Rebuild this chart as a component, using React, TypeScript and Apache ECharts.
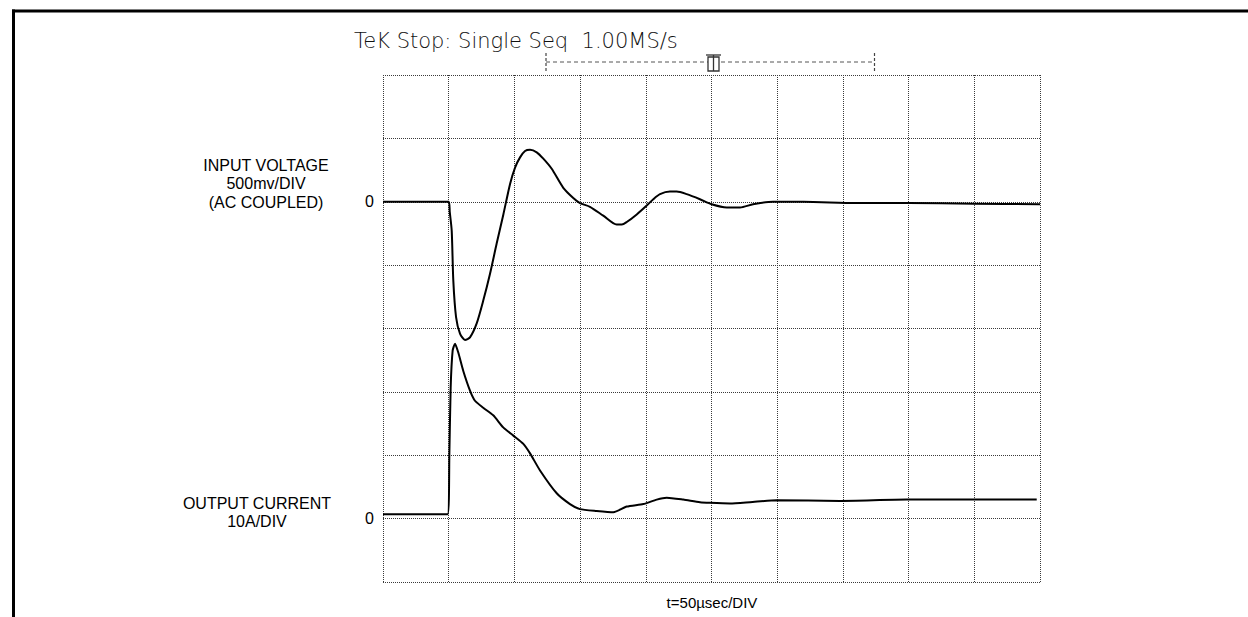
import React, { useEffect, useRef } from "react";
import * as echarts from "echarts";

// Time base: 50 µs per division, 10 divisions
const timeTicksUs = [0, 50, 100, 150, 200, 250, 300, 350, 400, 450, 500];

// Input voltage trace (AC coupled), volts vs time in µs
const inputTimeUs = [0, 50, 50.8, 52.3, 53.5, 55.6, 58.6, 62.4, 66.2, 71.3, 76.3, 81.4, 86.5, 91.6, 96.7, 100.5, 104.3, 108.1, 111.9, 117.0, 122.0, 128.4, 137.2, 144.8, 149.9, 157.5, 167.6, 177.8, 181.7, 185.5, 193.1, 200.7, 205.7, 210.8, 218.4, 223.5, 231.1, 241.2, 250.1, 261.6, 271.7, 281.6, 296.8, 320, 360, 400, 450, 500];
const inputVolts = [0, 0, -0.08, -0.23, -0.62, -0.91, -1.04, -1.09, -1.07, -0.96, -0.78, -0.57, -0.33, -0.10, 0.14, 0.27, 0.35, 0.40, 0.41, 0.39, 0.34, 0.26, 0.11, 0.03, -0.01, -0.04, -0.11, -0.18, -0.18, -0.16, -0.10, -0.03, 0.02, 0.06, 0.08, 0.08, 0.06, 0.02, -0.02, -0.045, -0.045, -0.02, 0, 0, -0.01, -0.01, -0.015, -0.02];

// Output current trace, amps vs time in µs
const currentTimeUs = [0, 25, 49.2, 50.5, 51.5, 53.0, 54.8, 57.3, 61.1, 66.2, 70.0, 76.3, 83.9, 91.5, 99.2, 106.8, 111.9, 119.5, 132.2, 142.3, 149.9, 162.6, 175.3, 185.5, 198.1, 208.3, 215.9, 228.5, 241.2, 248.8, 264.1, 279.3, 299.6, 347.6, 398.5, 497.5];
const currentAmps = [0.7, 0.7, 0.7, 10.2, 20.7, 26.5, 27.6, 26.2, 23.3, 20.2, 18.6, 17.5, 16.3, 14.4, 13.1, 11.8, 10.3, 7.6, 4.0, 2.3, 1.5, 1.2, 1.0, 1.9, 2.3, 3.0, 3.3, 3.0, 2.6, 2.5, 2.4, 2.6, 2.9, 2.8, 3.0, 3.0];

// Channel scales and zero positions (in screen divisions from bottom)
const VOLTS_PER_DIV = 0.5;
const AMPS_PER_DIV = 10;
const INPUT_ZERO_DIV = 6;
const CURRENT_ZERO_DIV = 1;
const VERTICAL_DIVS = 8;

const headerText = "TeK Stop: Single Seq  1.00MS/s";
const inputLabel = "INPUT VOLTAGE\n500mv/DIV\n(AC COUPLED)";
const currentLabel = "OUTPUT CURRENT\n10A/DIV";
const timeLabel = "t=50µsec/DIV";

export default function App() {
  const ref = useRef<HTMLDivElement>(null);

  useEffect(() => {
    if (!ref.current) return;
    const chart = echarts.init(ref.current, null, { renderer: "svg" });

    const inputData = inputTimeUs.map((t, i) => [t, INPUT_ZERO_DIV + inputVolts[i] / VOLTS_PER_DIV]);
    const currentData = currentTimeUs.map((t, i) => [t, CURRENT_ZERO_DIV + currentAmps[i] / AMPS_PER_DIV]);

    const gridLine = { color: "#3a3a3a", type: "dotted" as const, width: 1 };
    const frame = "#000";
    const dash = { stroke: "#555", lineWidth: 1, lineDash: [4, 3] };

    chart.setOption({
      animation: false,
      backgroundColor: "#fff",
      grid: { left: 383, top: 75, width: 657, height: 507, show: false },
      xAxis: {
        type: "value",
        min: timeTicksUs[0],
        max: timeTicksUs[timeTicksUs.length - 1],
        interval: 50,
        axisLine: { show: false },
        axisTick: { show: false },
        axisLabel: { show: false },
        splitLine: { show: true, lineStyle: gridLine },
      },
      yAxis: {
        type: "value",
        min: 0,
        max: VERTICAL_DIVS,
        interval: 1,
        axisLine: { show: false },
        axisTick: { show: false },
        axisLabel: {
          show: true,
          margin: 9,
          color: "#000",
          fontSize: 16,
          fontFamily: "Liberation Sans, Arial, sans-serif",
          formatter: (v: number) => (v === INPUT_ZERO_DIV || v === CURRENT_ZERO_DIV ? "0" : ""),
        },
        splitLine: { show: true, lineStyle: gridLine },
      },
      series: [
        {
          type: "line",
          name: "Input voltage",
          data: inputData,
          showSymbol: false,
          smooth: 0.25,
          lineStyle: { color: "#000", width: 2 },
        },
        {
          type: "line",
          name: "Output current",
          data: currentData,
          showSymbol: false,
          smooth: 0.2,
          lineStyle: { color: "#000", width: 2 },
        },
      ],
      graphic: [
        { type: "rect", shape: { x: 12, y: 9.5, width: 1240, height: 3 }, style: { fill: frame } },
        { type: "rect", shape: { x: 12, y: 9.5, width: 3, height: 620 }, style: { fill: frame } },
        {
          type: "text",
          x: 354,
          y: 41,
          style: {
            text: headerText,
            fill: "#111",
            font: "200 21px 'DejaVu Sans', sans-serif",
            textAlign: "left",
            textVerticalAlign: "middle",
          },
        },
        { type: "line", shape: { x1: 546, y1: 62, x2: 874, y2: 62 }, style: dash },
        { type: "line", shape: { x1: 546, y1: 53, x2: 546, y2: 73 }, style: { stroke: "#444", lineWidth: 1.2, lineDash: [3, 2] } },
        { type: "line", shape: { x1: 874.5, y1: 53, x2: 874.5, y2: 73 }, style: { stroke: "#444", lineWidth: 1.2, lineDash: [3, 2] } },
        { type: "rect", shape: { x: 708, y: 57, width: 11, height: 14 }, style: { fill: "#fff", stroke: "#333", lineWidth: 1.3 } },
        { type: "line", shape: { x1: 706, y1: 55, x2: 721, y2: 55 }, style: { stroke: "#333", lineWidth: 1.3 } },
        { type: "line", shape: { x1: 713.5, y1: 55, x2: 713.5, y2: 71 }, style: { stroke: "#333", lineWidth: 1.3 } },
        {
          type: "text",
          x: 266,
          y: 183.5,
          style: {
            text: inputLabel,
            fill: "#000",
            font: "16px 'Liberation Sans', Arial, sans-serif",
            lineHeight: 18.5,
            textAlign: "center",
            textVerticalAlign: "middle",
          },
        },
        {
          type: "text",
          x: 257,
          y: 512.5,
          style: {
            text: currentLabel,
            fill: "#000",
            font: "16px 'Liberation Sans', Arial, sans-serif",
            lineHeight: 18.5,
            textAlign: "center",
            textVerticalAlign: "middle",
          },
        },
        {
          type: "text",
          x: 712,
          y: 602,
          style: {
            text: timeLabel,
            fill: "#000",
            font: "15px 'Liberation Sans', Arial, sans-serif",
            textAlign: "center",
            textVerticalAlign: "middle",
          },
        },
      ],
    });

    return () => chart.dispose();
  }, []);

  return (
    <div
      ref={ref}
      style={{ position: "fixed", left: 0, top: 0, width: 1248, height: 617, background: "#fff" }}
    />
  );
}
